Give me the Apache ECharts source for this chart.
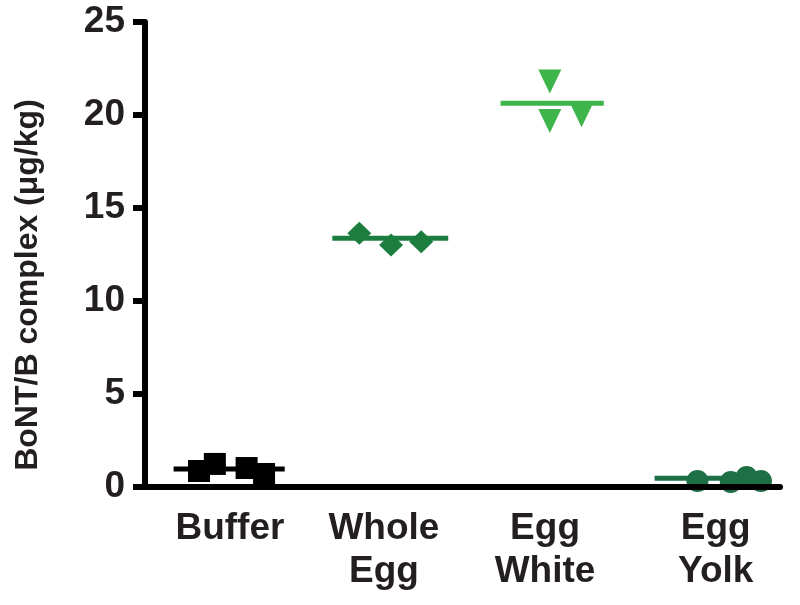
<!DOCTYPE html>
<html>
<head>
<meta charset="utf-8">
<script src="https://cdn.jsdelivr.net/npm/echarts@6/dist/echarts.min.js"></script>
<style>
html,body{margin:0;padding:0;background:#fff;}
#c{width:800px;height:605px;}
</style>
</head>
<body>
<div id="c"></div>
<script>
// Category labels and their positions on the (hidden) numeric x scale
var categories = ['Buffer', 'Whole\nEgg', 'Egg\nWhite', 'Egg\nYolk'];
var labelPos = [1.035, 2.005, 3.02, 4.095];

// Individual replicate values (x = scatter position within group, y = value)
var bufferX = [0.84, 0.94, 1.14, 1.25];
var bufferY = [0.86, 1.24, 1.02, 0.70];
var wholeX = [1.85, 2.05, 2.24];
var wholeY = [13.64, 13.01, 13.19];
var whiteX = [3.05, 3.05, 3.25];
var whiteY = [21.8, 19.68, 19.98];
var yolkX = [3.98, 4.19, 4.29, 4.38];
var yolkY = [0.32, 0.27, 0.54, 0.32];

// Group means and the x-extent of each mean bar
var means = [0.97, 13.37, 20.63, 0.47];
var meanStart = [0.68, 1.68, 2.74, 3.71];
var meanEnd = [1.38, 2.41, 3.39, 4.40];

var yTicks = [0, 5, 10, 15, 20, 25];
var yTitle = 'BoNT/B complex (\u03bcg/kg)';

var cBuffer = '#000000', cWhole = '#1b7e3f', cWhite = '#3db54a', cYolk = '#1d7046';
var FONT = '"Liberation Sans", Arial, sans-serif';

function pts(xs, ys) { return xs.map(function (x, i) { return [x, ys[i]]; }); }
function meanLine(i) { return [[meanStart[i], means[i]], [meanEnd[i], means[i]]]; }

var chart = echarts.init(document.getElementById('c'), null, {renderer: 'canvas'});
var series = [];
var groups = [
  {x: bufferX, y: bufferY, c: cBuffer, sym: 'rect', size: 22, rot: 0},
  {x: wholeX, y: wholeY, c: cWhole, sym: 'diamond', size: [24, 23], rot: 0},
  {x: whiteX, y: whiteY, c: cWhite, sym: 'triangle', size: [23, 24], rot: 180},
  {x: yolkX, y: yolkY, c: cYolk, sym: 'circle', size: 22, rot: 0}
];
groups.forEach(function (g, i) {
  series.push({
    type: 'scatter', data: pts(g.x, g.y), symbol: g.sym, symbolSize: g.size,
    symbolRotate: g.rot, itemStyle: {color: g.c, opacity: 1}, clip: false, z: 3, silent: true
  });
  series.push({
    type: 'line', data: meanLine(i), symbol: 'none', clip: false, z: 4, silent: true,
    lineStyle: {color: g.c, width: 5}
  });
});

chart.setOption({
  animation: false,
  backgroundColor: '#ffffff',
  grid: {left: 145, right: 20, top: 22, bottom: 118, containLabel: false, outerBoundsMode: 'none'},
  graphic: [{
    type: 'text', x: 28, y: 285, rotation: Math.PI / 2,
    style: {text: yTitle, font: 'bold 32px "Liberation Sans", Arial, sans-serif',
      fill: '#231f20', align: 'center', verticalAlign: 'middle'}
  }],
  xAxis: {
    type: 'value', min: 0.5, max: 4.5, z: 10,
    splitLine: {show: false},
    axisLine: {show: true, onZero: false, lineStyle: {color: '#000', width: 6}},
    axisTick: {show: false},
    axisLabel: {
      customValues: labelPos,
      formatter: function (v) {
        for (var i = 0; i < labelPos.length; i++) if (Math.abs(labelPos[i] - v) < 1e-6) return categories[i];
        return '';
      },
      fontFamily: FONT, fontWeight: 'bold', fontSize: 37, lineHeight: 43,
      color: '#231f20', margin: 20
    }
  },
  yAxis: {
    type: 'value', min: 0, max: 25, interval: 5, z: 10,
    splitLine: {show: false},
    axisLine: {show: true, lineStyle: {color: '#000', width: 6}},
    axisTick: {show: true, length: 12, lineStyle: {color: '#000', width: 6}},
    axisLabel: {
      fontFamily: FONT, fontWeight: 'bold', fontSize: 37, color: '#231f20', margin: 20,
      customValues: yTicks
    }
  },
  series: series
});
</script>
</body>
</html>
